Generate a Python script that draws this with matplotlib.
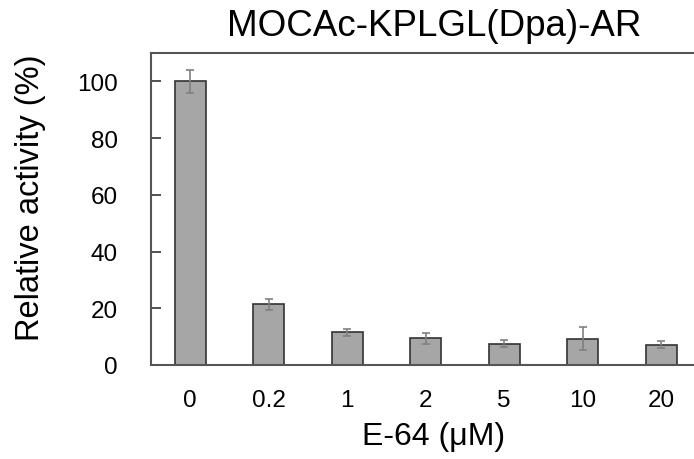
import matplotlib
matplotlib.use("Agg")
import matplotlib.pyplot as plt
import numpy as np

plt.rcParams['font.family'] = ['Liberation Sans', 'DejaVu Sans']

# data
conc_labels = ['0', '0.2', '1', '2', '5', '10', '20']
activity = [100, 21.4, 11.6, 9.4, 7.5, 9.3, 7.2]
activity_err = [4.0, 2.0, 1.2, 2.0, 1.3, 4.0, 1.2]

W, H = 694, 460
fig = plt.figure(figsize=(W / 100, H / 100), dpi=100)

# axes box in pixels: left 151, right 700 (runs off the canvas), top 54, bottom 366
left, right, top, bottom = 151, 700.5, 54, 366
ax = fig.add_axes([left / W, (H - bottom) / H, (right - left) / W, (bottom - top) / H])

x = np.arange(len(conc_labels))
ax.bar(x, activity, width=0.4, color='#a6a6a6', edgecolor='#333333', linewidth=1.2,
       zorder=2)
ax.errorbar(x, activity, yerr=activity_err, fmt='none', ecolor='#808080',
            elinewidth=1.2, capsize=3.2, capthick=1.2, zorder=3)

ax.set_xlim(-0.5, 6.5)
ax.set_ylim(0, 110)
ax.set_yticks([0, 20, 40, 60, 80, 100])
ax.set_xticks(x)
ax.set_xticklabels(conc_labels)

for s in ax.spines.values():
    s.set_color('#555555')
    s.set_linewidth(1.5)
ax.spines['right'].set_visible(False)

ax.tick_params(axis='y', direction='in', length=7, width=1.2, color='#333333',
               labelsize=17.5, pad=24)
ax.tick_params(axis='x', length=0, labelsize=17.5, pad=17)

fig.text(434 / W, 1 - 27 / H, 'MOCAc-KPLGL(Dpa)-AR', ha='center', va='center',
         fontsize=26.5)
fig.text(434 / W, 1 - 437 / H, 'E-64 (\u03bcM)', ha='center', va='center',
         fontsize=23)
fig.text(31 / W, 1 - 198 / H, 'Relative activity (%)', ha='center', va='center',
         rotation=90, fontsize=23.5)

fig.savefig('out.png', dpi=100)
